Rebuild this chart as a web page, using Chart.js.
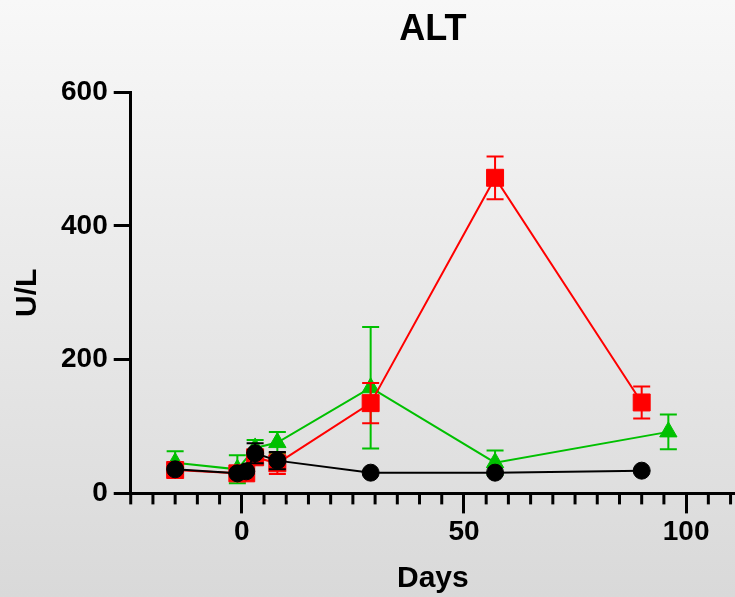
<!DOCTYPE html>
<html>
<head>
<meta charset="utf-8">
<script src="https://cdn.jsdelivr.net/npm/chart.js@4.4.0/dist/chart.umd.min.js"></script>
<style>
  body { margin: 0; background: #fff; }
  #wrap { width: 735px; height: 597px; }
</style>
</head>
<body>
<div id="wrap"><canvas id="altChart" width="735" height="597"></canvas></div>
<script>
// series: days, mean ALT (U/L) and error (half bar)
var blackDays = [-15, -1, 1, 3, 8, 29, 57, 90];
var blackMean = [36, 30, 33, 60, 49, 31, 31, 34];
var blackErr  = [0, 0, 0, 15, 13, 0, 0, 0];

var redDays = [-15, -1, 1, 3, 8, 29, 57, 90];
var redMean = [35, 30, 30, 54, 45, 135, 472, 136];
var redErr  = [0, 0, 0, 0, 16, 30, 32, 24];

var greenDays = [-15, -1, 3, 8, 29, 57, 96];
var greenMean = [46, 36, 68, 76, 158, 46, 92];
var greenErr  = [17, 21, 12, 16, 91, 18, 26];

var yTicks = [0, 200, 400, 600];
var xLabels = [0, 50, 100];

var FONT = "'Liberation Sans', Arial, sans-serif";

function toPoints(days, vals) {
    return days.map(function (d, i) { return { x: d, y: vals[i] }; });
}

var errors = [blackErr, redErr, greenErr];
var means = [blackMean, redMean, greenMean];

// background gradient behind everything
var bgPlugin = {
    id: 'bg',
    beforeDraw: function (chart) {
        var ctx = chart.ctx;
        var g = ctx.createLinearGradient(0, 0, 0, chart.height);
        g.addColorStop(0, '#f8f8f8');
        g.addColorStop(1, '#d9d9d9');
        ctx.save();
        ctx.fillStyle = g;
        ctx.fillRect(0, 0, chart.width, chart.height);
        ctx.restore();
    }
};

// error bars for each dataset, drawn right after that dataset
var errorBars = {
    id: 'errorBars',
    afterDatasetDraw: function (chart, args) {
        var i = args.index;
        var ds = chart.data.datasets[i];
        var yScale = chart.scales.y;
        var ctx = chart.ctx;
        ctx.save();
        ctx.strokeStyle = ds.borderColor;
        ctx.lineWidth = 2;
        args.meta.data.forEach(function (pt, j) {
            var e = errors[i][j];
            if (!e) return;
            var m = means[i][j];
            var top = yScale.getPixelForValue(m + e);
            var bot = yScale.getPixelForValue(m - e);
            ctx.beginPath();
            ctx.moveTo(pt.x, top);
            ctx.lineTo(pt.x, bot);
            ctx.moveTo(pt.x - 8.5, top);
            ctx.lineTo(pt.x + 8.5, top);
            ctx.moveTo(pt.x - 8.5, bot);
            ctx.lineTo(pt.x + 8.5, bot);
            ctx.stroke();
        });
        ctx.restore();
    }
};

// short minor ticks on the x axis every 5 days
var minorTicks = {
    id: 'minorTicks',
    afterDraw: function (chart) {
        var x = chart.scales.x;
        var ctx = chart.ctx;
        var y0 = chart.chartArea.bottom;
        ctx.save();
        ctx.strokeStyle = '#000';
        ctx.lineWidth = 3;
        x.ticks.forEach(function (t) {
            if (t.value % 5 !== 0 || t.value % 50 === 0) return;
            var px = x.getPixelForValue(t.value);
            ctx.beginPath();
            ctx.moveTo(px, y0);
            ctx.lineTo(px, y0 + 11);
            ctx.stroke();
        });
        ctx.restore();
    }
};

var ctx = document.getElementById('altChart').getContext('2d');
var chart = new Chart(ctx, {
    type: 'line',
    data: {
        datasets: [{
            label: 'black',
            data: toPoints(blackDays, blackMean),
            borderColor: '#000000',
            backgroundColor: '#000000',
            borderWidth: 2,
            pointStyle: 'circle',
            pointRadius: 8.5,
            pointBorderWidth: 1,
            order: 0
        }, {
            label: 'red',
            data: toPoints(redDays, redMean),
            borderColor: '#ff0000',
            backgroundColor: '#ff0000',
            borderWidth: 2,
            pointStyle: 'rect',
            pointRadius: 12,
            pointBorderWidth: 1,
            order: 1
        }, {
            label: 'green',
            data: toPoints(greenDays, greenMean),
            borderColor: '#00c000',
            backgroundColor: '#00c000',
            borderWidth: 2,
            pointStyle: 'triangle',
            pointRadius: 10,
            pointBorderWidth: 1,
            order: 2
        }]
    },
    options: {
        responsive: false,
        animation: false,
        clip: false,
        layout: { autoPadding: false, padding: { left: 0, right: 0, top: 0, bottom: 0 } },
        plugins: {
            legend: { display: false },
            tooltip: { enabled: false },
            title: {
                display: true,
                fullSize: false,
                text: 'ALT',
                color: '#000',
                font: { family: FONT, size: 36, weight: 'bold' },
                padding: { top: 8, bottom: 41 }
            }
        },
        scales: {
            x: {
                type: 'linear',
                min: -25,
                max: 111,
                border: { display: true, color: '#000', width: 3 },
                grid: {
                    display: true,
                    drawOnChartArea: false,
                    tickLength: 20,
                    tickWidth: 3,
                    tickColor: function (c) {
                        return c.tick && xLabels.indexOf(c.tick.value) >= 0 ? '#000' : 'rgba(0,0,0,0)';
                    }
                },
                ticks: {
                    stepSize: 5,
                    includeBounds: false,
                    autoSkip: false,
                    maxRotation: 0,
                    padding: 2,
                    color: '#000',
                    font: { family: FONT, size: 28, weight: 'bold' },
                    callback: function (v) { return xLabels.indexOf(v) >= 0 ? String(v) : ''; }
                },
                title: {
                    display: true,
                    text: 'Days',
                    color: '#000',
                    font: { family: FONT, size: 30, weight: 'bold' },
                    padding: { top: 10, bottom: 0 }
                }
            },
            y: {
                min: 0,
                max: 600,
                border: { display: true, color: '#000', width: 3 },
                grid: {
                    display: true,
                    drawOnChartArea: false,
                    tickLength: 17,
                    tickWidth: 3,
                    tickColor: '#000'
                },
                afterBuildTicks: function (axis) {
                    axis.ticks = yTicks.map(function (v) { return { value: v }; });
                },
                ticks: {
                    padding: 6,
                    color: '#000',
                    font: { family: FONT, size: 28, weight: 'bold' }
                },
                title: {
                    display: true,
                    text: 'U/L',
                    color: '#000',
                    font: { family: FONT, size: 30, weight: 'bold' },
                    padding: { top: 10, bottom: 9 }
                }
            }
        }
    },
    plugins: [bgPlugin, errorBars, minorTicks]
});
</script>
</body>
</html>
